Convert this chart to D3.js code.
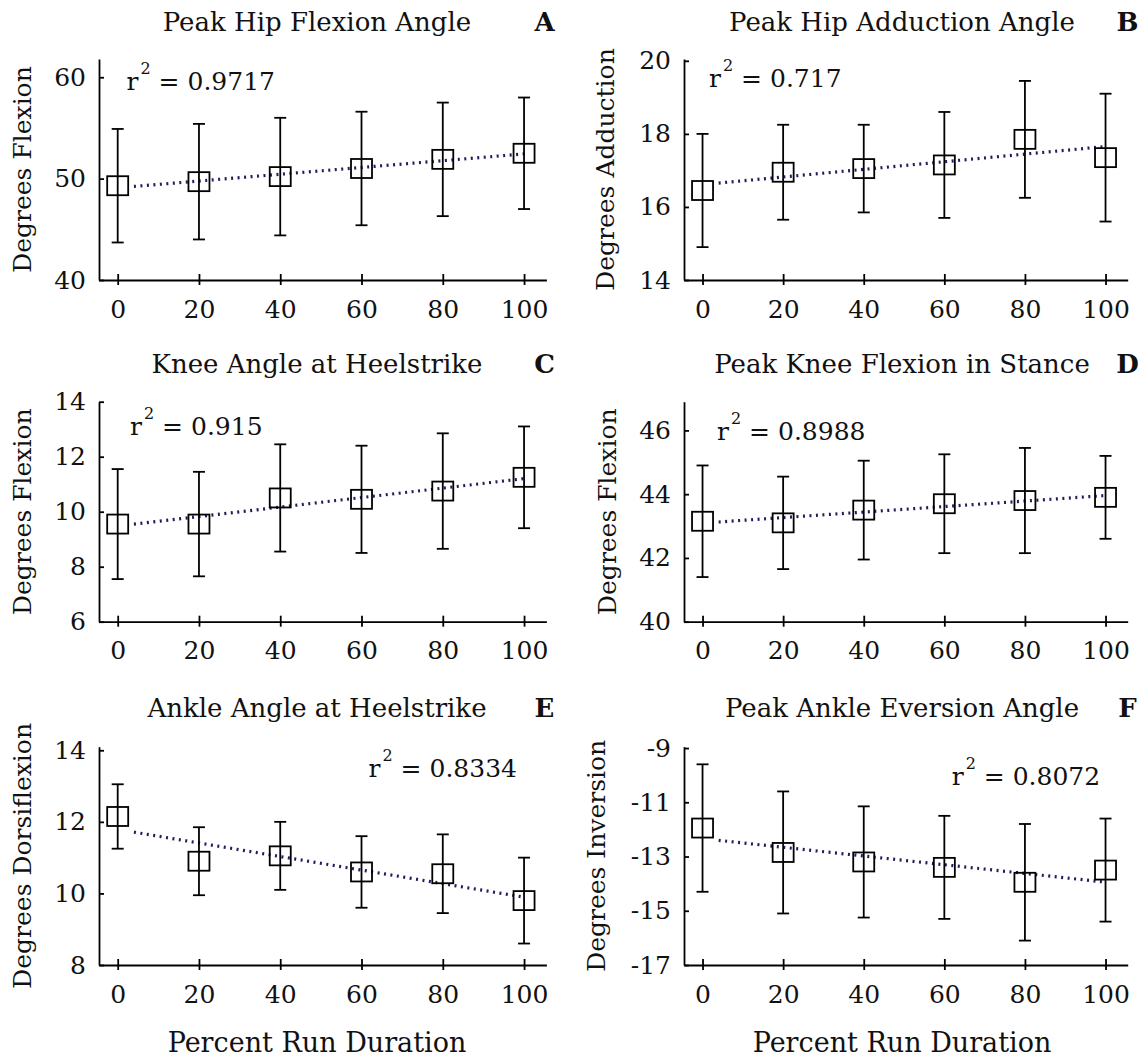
<!DOCTYPE html>
<html>
<head>
<meta charset="utf-8">
<script src="https://cdn.jsdelivr.net/npm/d3@7"></script>
<style>
  html, body { margin: 0; padding: 0; background: #fff; }
  svg { display: block; }
  text { white-space: pre; }
</style>
</head>
<body>
<svg id="chart" width="1148" height="1059"></svg>
<script>
// Sample points: percent of the run completed
const runPercent = [0, 20, 40, 60, 80, 100];
const xTicks = [0, 20, 40, 60, 80, 100];

// A: peak hip flexion angle (mean, SD)
const hipFlexionMean = [49.3, 49.7, 50.2, 51.0, 51.9, 52.5];
const hipFlexionSD   = [5.6, 5.7, 5.8, 5.6, 5.6, 5.5];
const hipFlexionTicks = [40, 50, 60];

// B: peak hip adduction angle
const hipAdductionMean = [16.45, 16.95, 17.05, 17.15, 17.85, 17.35];
const hipAdductionSD   = [1.55, 1.3, 1.2, 1.45, 1.6, 1.75];
const hipAdductionTicks = [14, 16, 18, 20];

// C: knee angle at heelstrike
const kneeHeelstrikeMean = [9.55, 9.55, 10.5, 10.45, 10.75, 11.25];
const kneeHeelstrikeSD   = [2.0, 1.9, 1.95, 1.95, 2.1, 1.85];
const kneeHeelstrikeTicks = [6, 8, 10, 12, 14];

// D: peak knee flexion in stance
const kneeStanceMean = [43.15, 43.1, 43.5, 43.7, 43.8, 43.9];
const kneeStanceSD   = [1.75, 1.45, 1.55, 1.55, 1.65, 1.3];
const kneeStanceTicks = [40, 42, 44, 46];

// E: ankle angle at heelstrike
const ankleHeelstrikeMean = [12.15, 10.9, 11.05, 10.6, 10.55, 9.8];
const ankleHeelstrikeSD   = [0.9, 0.95, 0.95, 1.0, 1.1, 1.2];
const ankleHeelstrikeTicks = [8, 10, 12, 14];

// F: peak ankle eversion angle
const ankleEversionMean = [-11.95, -12.85, -13.2, -13.4, -13.95, -13.5];
const ankleEversionSD   = [2.35, 2.25, 2.05, 1.9, 2.15, 1.9];
const ankleEversionTicks = [-17, -15, -13, -11, -9];

const panelTitles = [
  "Peak Hip Flexion Angle", "Peak Hip Adduction Angle",
  "Knee Angle at Heelstrike", "Peak Knee Flexion in Stance",
  "Ankle Angle at Heelstrike", "Peak Ankle Eversion Angle"
];
const panelLetters = ["A", "B", "C", "D", "E", "F"];
const yAxisTitles = [
  "Degrees Flexion", "Degrees Adduction",
  "Degrees Flexion", "Degrees Flexion",
  "Degrees Dorsiflexion", "Degrees Inversion"
];
const r2Values = ["0.9717", "0.717", "0.915", "0.8988", "0.8334", "0.8072"];
const xAxisTitle = "Percent Run Duration";

const means = [hipFlexionMean, hipAdductionMean, kneeHeelstrikeMean,
               kneeStanceMean, ankleHeelstrikeMean, ankleEversionMean];
const sds = [hipFlexionSD, hipAdductionSD, kneeHeelstrikeSD,
             kneeStanceSD, ankleHeelstrikeSD, ankleEversionSD];
const yTicks = [hipFlexionTicks, hipAdductionTicks, kneeHeelstrikeTicks,
                kneeStanceTicks, ankleHeelstrikeTicks, ankleEversionTicks];

// ---- layout ----
const xDomain = [-4.6, 105.5];
const yDomains = [[40, 61.8], [14, 20.05], [6, 14], [40, 46.9], [8, 14.1], [-17, -8.95]];
const colX = [[99, 546.4], [684, 1127.7]];
const rowY = [[59, 280], [401.7, 621.7], [746.7, 965]];
const titleCx = [317, 902];
const letterCx = [544.5, 1127.5];
const titleBaseline = [31, 373, 717];
const yTitleX = [31, 614, 31, 616, 31, 605];
const r2Pos = [[126.5, 90], [709, 87], [130, 435], [717, 440], [368.5, 777], [951.7, 785]];

const font = "'DejaVu Serif', Georgia, serif";
const trendColor = "#1e1e5c";

const svg = d3.select("#chart");

function fitLine(xs, ys) {
  const mx = d3.mean(xs), my = d3.mean(ys);
  let sxy = 0, sxx = 0;
  xs.forEach((xv, i) => { sxy += (xv - mx) * (ys[i] - my); sxx += (xv - mx) ** 2; });
  const slope = sxy / sxx;
  return xv => my + slope * (xv - mx);
}

for (let i = 0; i < 6; i++) {
  const col = i % 2, row = Math.floor(i / 2);
  const [left, right] = colX[col];
  const [top, bottom] = rowY[row];
  const x = d3.scaleLinear().domain(xDomain).range([left, right]);
  const y = d3.scaleLinear().domain(yDomains[i]).range([bottom, top]);
  const g = svg.append("g");

  // y axis
  const ya = g.append("g")
    .attr("transform", `translate(${left},0)`)
    .call(d3.axisLeft(y).tickValues(yTicks[i]).tickFormat(d => String(d))
      .tickSizeOuter(0).tickSizeInner(-5).tickPadding(13));
  ya.attr("font-family", font).attr("font-size", 25);
  ya.selectAll("path, line").attr("stroke", "#000").attr("stroke-width", 1.8);
  ya.selectAll("text").attr("fill", "#111");

  // x axis
  const xa = g.append("g")
    .attr("transform", `translate(0,${bottom})`)
    .call(d3.axisBottom(x).tickValues(xTicks).tickFormat(d => String(d))
      .tickSizeOuter(0).tickSizeInner(5));
  xa.attr("font-family", font).attr("font-size", 25);
  xa.selectAll("path, line").attr("stroke", "#000").attr("stroke-width", 1.8);
  xa.selectAll(".tick line").attr("y1", -6).attr("y2", 5);
  xa.selectAll("text").attr("y", 37.5).attr("dy", null).attr("fill", "#111");

  // linear trend through the means
  const f = fitLine(runPercent, means[i]);
  const trendX = [4, 100];
  g.append("path")
    .attr("d", d3.line().x(d => x(d)).y(d => y(f(d)))(trendX))
    .attr("fill", "none")
    .attr("stroke", trendColor)
    .attr("stroke-width", 3.2)
    .attr("stroke-dasharray", "2,4.5");

  // error bars (mean ± SD)
  const bars = g.append("g").attr("stroke", "#000").attr("stroke-width", 1.8);
  runPercent.forEach((xv, k) => {
    const m = means[i][k], s = sds[i][k];
    const cx = x(xv);
    bars.append("line").attr("x1", cx).attr("x2", cx).attr("y1", y(m - s)).attr("y2", y(m + s));
    bars.append("line").attr("x1", cx - 6).attr("x2", cx + 6).attr("y1", y(m + s)).attr("y2", y(m + s));
    bars.append("line").attr("x1", cx - 6).attr("x2", cx + 6).attr("y1", y(m - s)).attr("y2", y(m - s));
  });

  // square markers at the means
  g.append("g").selectAll("rect")
    .data(runPercent.map((xv, k) => [xv, means[i][k]]))
    .join("rect")
    .attr("x", d => x(d[0]) - 10.5)
    .attr("y", d => y(d[1]) - 9.5)
    .attr("width", 21).attr("height", 19)
    .attr("fill", "none").attr("stroke", "#000").attr("stroke-width", 1.8);

  // panel title and letter
  g.append("text")
    .attr("x", titleCx[col]).attr("y", titleBaseline[row])
    .attr("text-anchor", "middle")
    .attr("font-family", font).attr("font-size", 26).attr("fill", "#111")
    .text(panelTitles[i]);
  g.append("text")
    .attr("x", letterCx[col]).attr("y", titleBaseline[row])
    .attr("text-anchor", "middle")
    .attr("font-family", font).attr("font-size", 26).attr("font-weight", "bold").attr("fill", "#111")
    .text(panelLetters[i]);

  // y-axis title
  g.append("text")
    .attr("transform", `translate(${yTitleX[i]},${(top + bottom) / 2}) rotate(-90)`)
    .attr("text-anchor", "middle")
    .attr("font-family", font).attr("font-size", 25).attr("fill", "#111")
    .text(yAxisTitles[i]);

  // r² annotation
  const r2 = g.append("text")
    .attr("x", r2Pos[i][0]).attr("y", r2Pos[i][1])
    .attr("font-family", font).attr("font-size", 25).attr("fill", "#111");
  r2.append("tspan").text("r");
  r2.append("tspan").attr("font-size", 16).attr("dx", 2).attr("dy", -16.5).text("2");
  r2.append("tspan").attr("dy", 16.5).text(" = " + r2Values[i]);

  // x-axis title under the bottom row
  if (row === 2) {
    g.append("text")
      .attr("x", titleCx[col]).attr("y", 1052)
      .attr("text-anchor", "middle")
      .attr("font-family", font).attr("font-size", 27).attr("fill", "#111")
      .text(xAxisTitle);
  }
}
</script>
</body>
</html>
